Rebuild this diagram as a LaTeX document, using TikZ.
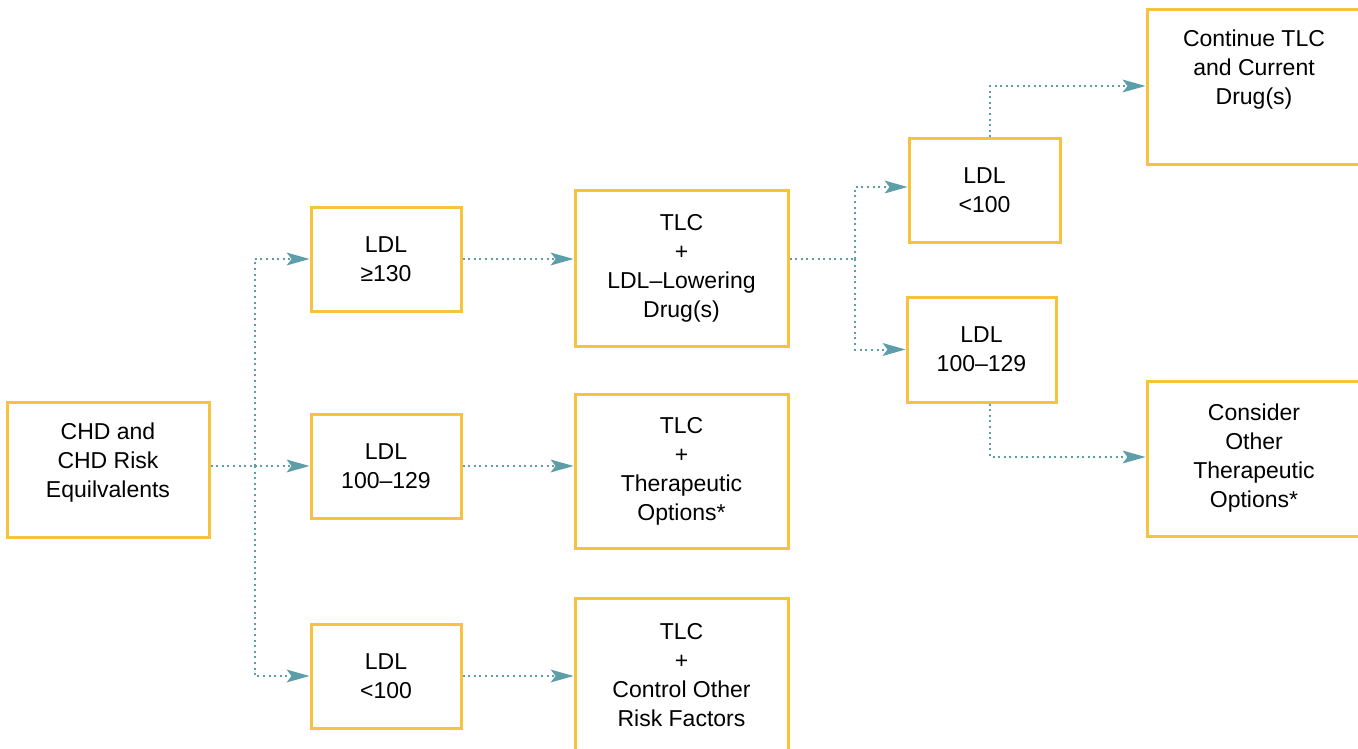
\documentclass[tikz,border=0pt]{standalone}
\usepackage{fontspec}
\setmainfont{Liberation Sans}
\usetikzlibrary{arrows.meta}
\definecolor{boxc}{HTML}{F7C23C}
\definecolor{linec}{HTML}{5E9EA8}
\tikzset{
  box/.style={draw=boxc, line width=3pt, fill=white, inner sep=0pt, align=center,
    font=\fontsize{23}{29}\selectfont},
  txt/.style={inner sep=0pt, align=center, font=\fontsize{23}{29}\selectfont},
  conn/.style={draw=linec, line width=2pt, dash pattern=on 2pt off 3.6pt},
  arr/.style={conn, -{Stealth[length=23pt,width=13pt,inset=5pt,fill=linec,line width=0pt,sep=0pt]}}
}
\begin{document}
\begin{tikzpicture}[x=1pt,y=-1pt]
\useasboundingbox (0,0) rectangle (1358,749);
\clip (0,0) rectangle (1358,749);
% boxes
\node[box, minimum width=202, minimum height=135] (chd) at (108,469.5) {};
\node[txt] (chdtext) at (108,463) {CHD and\\CHD Risk\\Equilvalents};
\node[box, minimum width=150, minimum height=104] (la) at (386,259) {LDL\\≥130};
\node[box, minimum width=150, minimum height=104] (lb) at (386,466) {LDL\\100–129};
\node[box, minimum width=150, minimum height=104] (lc) at (386,676) {LDL\\<100};
\node[box, minimum width=213, minimum height=155] (ta) at (681.5,268.5) {TLC\\+\\LDL–Lowering\\Drug(s)};
\node[box, minimum width=213, minimum height=154] (tb) at (681.5,471) {TLC\\+\\Therapeutic\\Options*};
\node[box, minimum width=213, minimum height=154] (tc) at (681.5,675) {TLC\\+\\Control Other\\Risk Factors};
\node[box, minimum width=151, minimum height=103] (ra) at (984.5,190.5) {LDL\\<100};
\node[box, minimum width=149, minimum height=105] (rb) at (981.5,349.5) {LDL\\100–129};
\node[box, minimum width=214, minimum height=155] (cont) at (1254,87.5) {};
\node[txt] (conttext) at (1254,70) {Continue TLC\\and Current\\Drug(s)};
\node[box, minimum width=214, minimum height=155] (cons) at (1254,458.5) {Consider\\Other\\Therapeutic\\Options*};
% connectors
\draw[conn] (chd.east |- lb.west) -- ++(44,0) coordinate (j1);
\draw[arr] (j1) |- (la.west);
\draw[arr] (j1) -- (lb.west);
\draw[arr] (j1) |- (lc.west);
\draw[arr] (la.east) -- (ta.west |- la.east);
\draw[arr] (lb.east) -- (tb.west |- lb.east);
\draw[arr] (lc.east) -- (tc.west |- lc.east);
\draw[conn] (ta.east |- la.east) -- (855,259) coordinate (j2);
\draw[arr] (j2) |- (ra.west |- 0,187);
\draw[arr] (j2) |- (rb.west);
\draw[arr] ([xshift=5.5pt]ra.north) |- (cont.west |- 0,86);
\draw[arr] ([xshift=8.5pt]rb.south) |- (cons.west |- 0,457);
\end{tikzpicture}
\end{document}
